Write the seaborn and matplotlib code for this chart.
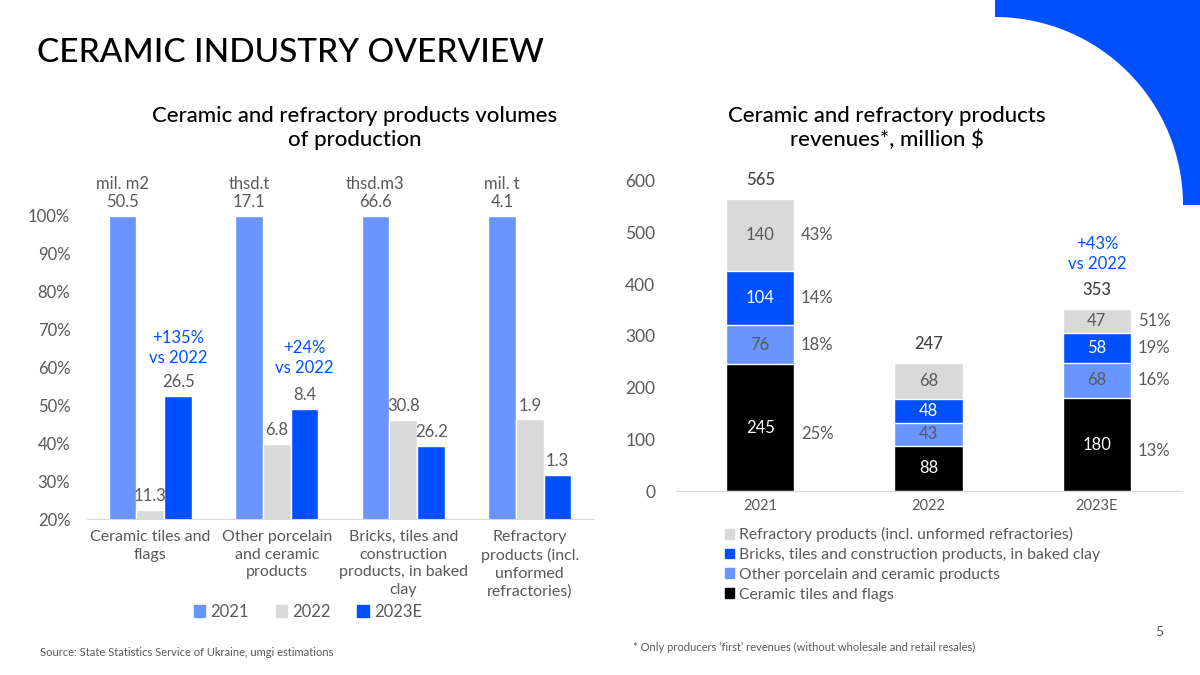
import pandas as pd
import numpy as np
import matplotlib.pyplot as plt
import matplotlib.patches as mpatches
import seaborn as sns

# --- DATA ---
vol_categories = ["Ceramic tiles and\nflags",
                  "Other porcelain\nand ceramic\nproducts",
                  "Bricks, tiles and\nconstruction\nproducts, in baked\nclay",
                  "Refractory\nproducts (incl.\nunformed\nrefractories)"]
vol_years = ["2021", "2022", "2023E"]
vol_units = ["mil. m2", "thsd.t", "thsd.m3", "mil. t"]
vol_2021 = [50.5, 17.1, 66.6, 4.1]
vol_2022 = [11.3, 6.8, 30.8, 1.9]
vol_2023 = [26.5, 8.4, 26.2, 1.3]
share_2021 = [100, 100, 100, 100]
share_2022 = [22.4, 39.8, 46.2, 46.3]
share_2023 = [52.5, 49.1, 39.3, 31.7]
vol_growth = ["+135%\nvs 2022", "+24%\nvs 2022"]
vol_growth_y = [65.1, 62.5]

rev_years = ["2021", "2022", "2023E"]
rev_tiles = [245, 88, 180]
rev_other = [76, 43, 68]
rev_bricks = [104, 48, 58]
rev_refr = [140, 68, 47]
rev_total = [565, 247, 353]
rev_share_2021 = ["25%", "18%", "14%", "43%"]
rev_share_2023 = ["13%", "16%", "19%", "51%"]
rev_growth = "+43%\nvs 2022"
rev_series = ["Refractory products (incl. unformed refractories)",
              "Bricks, tiles and construction products, in baked clay",
              "Other porcelain and ceramic products",
              "Ceramic tiles and flags"]

# --- STYLE ---
LIGHT = "#6895FF"
GREY = "#D9D9D9"
BLUE = "#0050FF"
BLACK = "#000000"
TXT = "#595959"

sns.set_style("white")
plt.rcParams["font.family"] = ["Lato", "DejaVu Sans"]

fig = plt.figure(figsize=(12, 6.75), dpi=100)

# decorative corner shape
cx, cy, r = 995, 205, 188
ang = np.linspace(0, np.pi / 2, 60)
arc = [(cx + r * np.cos(a), cy - r * np.sin(a)) for a in ang]
pts = [(995, 0), (1200, 0), (1200, 205)] + arc + [(995, 0)]
pts = [(x / 1200, 1 - y / 675) for x, y in pts]
fig.patches.append(mpatches.Polygon(pts, closed=True, transform=fig.transFigure,
                                    facecolor=BLUE, edgecolor="none"))

fig.text(37 / 1200, 1 - 53 / 675, "CERAMIC INDUSTRY OVERVIEW", fontsize=24,
         va="center", ha="left", color="black", fontweight="medium")

# --- LEFT: volumes ---
ax1 = fig.add_axes([87 / 1200, 1 - 519 / 675, 506 / 1200, 303 / 675])
df_vol = pd.DataFrame({
    "category": vol_categories * 3,
    "year": [y for y in vol_years for _ in vol_categories],
    "share": share_2021 + share_2022 + share_2023,
    "value": vol_2021 + vol_2022 + vol_2023,
})
sns.barplot(data=df_vol, x="category", y="share", hue="year", order=vol_categories,
            hue_order=vol_years, palette=[LIGHT, GREY, BLUE], width=0.66, gap=0,
            saturation=1, legend=False, ax=ax1)
ax1.set_xlim(-0.5, 3.5)
ax1.set_ylim(20, 100)
ax1.set_yticks(range(20, 101, 10))
ax1.set_yticklabels([f"{v}%" for v in range(20, 101, 10)])
ax1.set_xlabel("")
ax1.set_ylabel("")
sns.despine(ax=ax1, left=True)
ax1.spines["bottom"].set_color(GREY)
ax1.set_xticks([-0.5, 0.5, 1.5, 2.5, 3.5], minor=True)
ax1.tick_params(axis="x", which="major", length=0, pad=8, labelsize=11.5, labelcolor=TXT)
ax1.tick_params(axis="x", which="minor", length=8, color=GREY, width=1)
ax1.tick_params(axis="y", length=0, pad=12, labelsize=12, labelcolor=TXT)
for t in ax1.get_xticklabels():
    t.set_linespacing(1.32)
    t.set_va("top")

vals = [vol_2021, vol_2022, vol_2023]
for i, cont in enumerate(ax1.containers):
    for j, bar in enumerate(cont):
        xc = bar.get_x() + bar.get_width() / 2
        top = bar.get_height()
        ax1.annotate(f"{vals[i][j]}", (xc, top), xytext=(0, 4), textcoords="offset points",
                     ha="center", va="bottom", fontsize=12, color=TXT, clip_on=False)
        if i == 0:
            ax1.annotate(vol_units[j], (xc, top), xytext=(0, 17), textcoords="offset points",
                         ha="center", va="bottom", fontsize=12, color=TXT, clip_on=False)
for j, txt in enumerate(vol_growth):
    bar = ax1.containers[2][j]
    ax1.text(bar.get_x() + bar.get_width() / 2, vol_growth_y[j], txt, ha="center",
             va="center", fontsize=12, color=BLUE, linespacing=1.3)

fig.text(355 / 1200, 1 - 128 / 675, "Ceramic and refractory products volumes\nof production",
         ha="center", va="center", fontsize=16, linespacing=1.25, color="black",
         fontweight="medium")

handles = [mpatches.Patch(color=c, label=y) for c, y in zip([LIGHT, GREY, BLUE], vol_years)]
fig.legend(handles=handles, loc="center", bbox_to_anchor=(308 / 1200, 1 - 612 / 675), ncol=3,
           frameon=False, fontsize=12, handlelength=0.7, handleheight=0.7,
           handletextpad=0.3, columnspacing=1.6, labelcolor=TXT)

# --- RIGHT: revenues (stacked) ---
ax2 = fig.add_axes([676 / 1200, 1 - 491 / 675, 505 / 1200, 310 / 675])
df_rev = pd.DataFrame({"year": rev_years, "tiles": rev_tiles, "other": rev_other,
                       "bricks": rev_bricks, "refr": rev_refr, "total": rev_total})
df_rev["c1"] = df_rev["tiles"]
df_rev["c2"] = df_rev["c1"] + df_rev["other"]
df_rev["c3"] = df_rev["c2"] + df_rev["bricks"]
df_rev["c4"] = df_rev["c3"] + df_rev["refr"]
for col, c in [("c4", GREY), ("c3", BLUE), ("c2", LIGHT), ("c1", BLACK)]:
    sns.barplot(data=df_rev, x="year", y=col, color=c, width=0.405, saturation=1, ax=ax2)
ax2.set_xlim(-0.5, 2.5)
ax2.set_ylim(0, 600)
ax2.set_yticks(range(0, 601, 100))
ax2.set_xlabel("")
ax2.set_ylabel("")
sns.despine(ax=ax2, left=True)
ax2.spines["bottom"].set_color(GREY)
ax2.tick_params(axis="x", length=0, pad=6, labelsize=10.5, labelcolor=TXT)
ax2.tick_params(axis="y", length=0, pad=15, labelsize=12.5, labelcolor=TXT)

seg_cols = ["tiles", "other", "bricks", "refr"]
seg_txt = ["white", TXT, "white", TXT]
for i, row in df_rev.iterrows():
    base = 0
    for k, col in enumerate(seg_cols):
        v = row[col]
        ax2.text(i, base + v / 2, f"{v}", ha="center", va="center", fontsize=12,
                 color=seg_txt[k])
        shares = rev_share_2021 if i == 0 else rev_share_2023 if i == 2 else None
        if shares is not None:
            yy = base + v / 2 - (12 if k == 0 else 0)
            ax2.text(i + 0.405 / 2 + 0.04, yy, shares[k], ha="left", va="center",
                     fontsize=12, color=TXT)
        base += v
    ax2.annotate(f"{row['total']}", (i, row["total"]), xytext=(0, 8),
                 textcoords="offset points", ha="center", va="bottom", fontsize=12,
                 color="#404040", fontweight="medium")
ax2.text(2, 458, rev_growth, ha="center", va="center", fontsize=12, color=BLUE,
         linespacing=1.3)

fig.text(887 / 1200, 1 - 128 / 675, "Ceramic and refractory products\nrevenues*, million $",
         ha="center", va="center", fontsize=16, linespacing=1.25, color="black",
         fontweight="medium")

handles2 = [mpatches.Patch(color=c, label=l) for c, l in zip([GREY, BLUE, LIGHT, BLACK], rev_series)]
fig.legend(handles=handles2, loc="upper left", bbox_to_anchor=(725 / 1200, 1 - 527 / 675),
           frameon=False, fontsize=11.3, handlelength=0.6, handleheight=0.6,
           handletextpad=0.3, labelspacing=0.38, labelcolor=TXT, borderaxespad=0, borderpad=0)

# --- FOOTER ---
fig.text(40 / 1200, 1 - 653 / 675, "Source: State Statistics Service of Ukraine, umgi estimations",
         fontsize=8, color=TXT, va="center")
fig.text(633 / 1200, 1 - 647 / 675,
         "* Only producers \u2018first\u2019 revenues (without wholesale and retail resales)",
         fontsize=8, color=TXT, va="center")
fig.text(1155 / 1200, 1 - 632 / 675, "5", fontsize=10, color=TXT, va="center")

plt.savefig("out.png", dpi=100)
